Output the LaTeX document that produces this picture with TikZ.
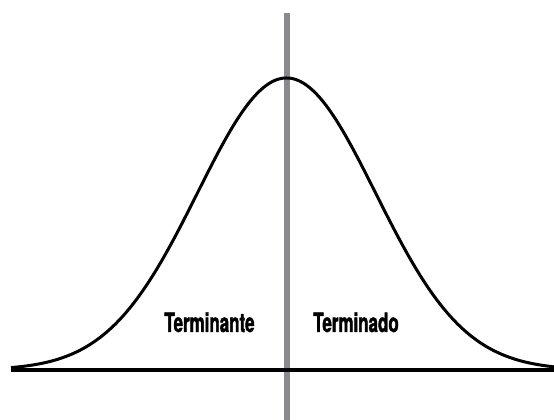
\documentclass[tikz,border=0pt]{standalone}
\usepackage{fontspec}
\newfontfamily\condbold[FakeStretch=0.64,FakeBold=1.5]{TeX Gyre Heros Bold}
\begin{document}
\begin{tikzpicture}[x=1pt,y=1pt,
  lbl/.style={font=\condbold\fontsize{26.5}{27}\selectfont, inner sep=0pt, anchor=base},
  curve/.style={line width=3pt, black},
  axis/.style={line width=3.6pt, black},
  divider/.style={line width=6pt, color=divgray}]
\definecolor{divgray}{HTML}{8A8A8E}
\useasboundingbox (0,0) rectangle (554,420);
\coordinate (vtop) at (286.5,407);
\coordinate (vbot) at (286.5,0);
\coordinate (bl) at (11,50);
\coordinate (br) at (554,50);
\draw[divider] (vtop) -- (vbot);
\draw[curve] plot[domain=11:554, samples=220, smooth] (\x, {50 + 292*exp(-0.5*((\x-286.5)/89)^2)});
\draw[axis] (bl) -- (br);
\node[lbl] (t1) at (209.5,88) {Terminante};
\node[lbl] (t2) at (356,88) {Terminado};
\end{tikzpicture}
\end{document}
